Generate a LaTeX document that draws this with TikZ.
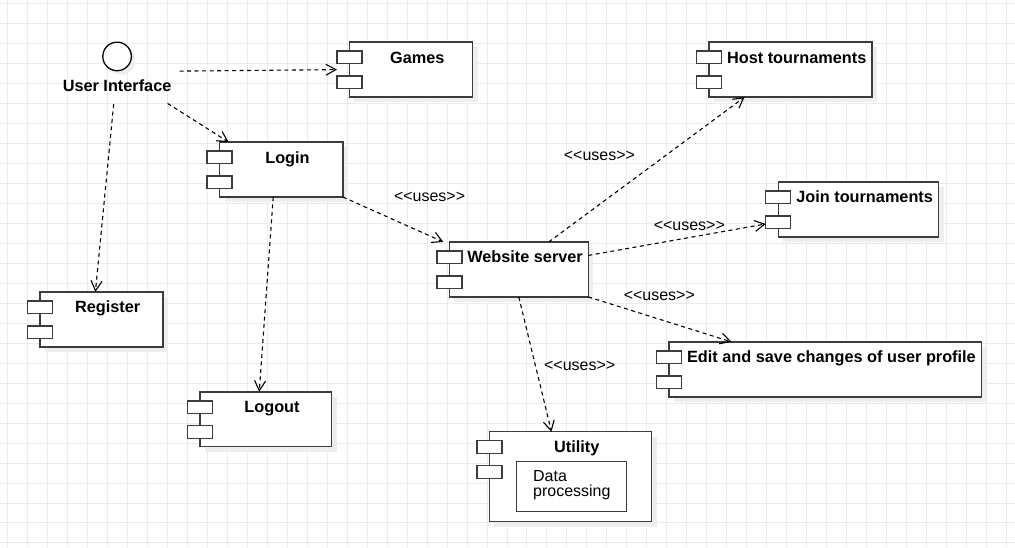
\documentclass[tikz,border=0pt]{standalone}
\usepackage{fontspec}
\setmainfont{Liberation Sans}
\usepackage{tikz}
\usetikzlibrary{arrows.meta,positioning,calc}

\definecolor{gridline}{HTML}{EBEBEB}
\definecolor{compline}{HTML}{3C3C3C}
\definecolor{shadowgray}{HTML}{EEEEEE}
\newcommand{\stereo}[1]{<\kern0pt<#1>\kern0pt>}

\begin{document}
\begin{tikzpicture}[x=1pt, y=-1pt,
    comp/.style={draw=compline, fill=white, line width=1.4pt, inner sep=0pt, outer sep=0pt, anchor=north west},
    port/.style={draw=compline, fill=white, line width=1.4pt},
    shadowbox/.style={fill=shadowgray},
    comptitle/.style={font=\fontsize{16.3}{19}\selectfont\bfseries, inner sep=0pt, anchor=base},
    uses/.style={font=\fontsize{16}{19}\selectfont, inner sep=0pt, anchor=base},
    dep/.style={-{Straight Barb[length=10pt,width=11pt]}, line width=1.1pt, dash pattern=on 4pt off 3.5pt}]

    % Background grid
    \fill[white] (0,0) rectangle (1015,547);
    \foreach \gx in {7,27,...,1007} \draw[gridline, line width=1pt] (\gx,0) -- (\gx,547);
    \foreach \gy in {3,23,...,543} \draw[gridline, line width=1pt] (0,\gy) -- (1015,\gy);
    \useasboundingbox (0,0) rectangle (1015,547);

    % Components
    \foreach \nm/\lx/\ty/\w/\h/\ttl in {
        games/349.3/41.7/123.4/55/Games,
        login/219.3/141.7/123.4/55/Login,
        host/709.3/41.7/163/55/Host tournaments,
        join/778.5/181.7/160.5/55/Join tournaments,
        ws/449.3/241.7/139/55/Website server,
        edit/669.3/341.7/312.4/55/Edit and save changes of user profile,
        utility/489.3/431.7/162.4/90/Utility,
        register/39.5/291.7/123/55/Register,
        logout/199.5/391.7/132/55/Logout}
    {
        \fill[shadowbox] (\lx+5,\ty+5) rectangle ++(\w,\h);
        \node[comp, minimum width=\w pt, minimum height=\h pt] (\nm) at (\lx,\ty) {};
        \draw[port] (\lx-12.5,\ty+9) rectangle ++(25,12.5);
        \draw[port] (\lx-12.5,\ty+34) rectangle ++(25,12.5);
        \node[comptitle] (\nm-title) at (\lx+6.25+\w/2,\ty+21) {\ttl};
    }

    % Inner part of Utility
    \node[draw=compline, line width=1.4pt, minimum width=110pt, minimum height=50pt, inner sep=0pt] (dataproc) at (571.7,486.7) {};
    \node[font=\fontsize{16}{15.7}\selectfont, align=left, inner sep=0pt, anchor=base west] (dataproc-text) at (533,496.7) {Data\\processing};

    % Interface
    \fill[shadowbox] (120.7,60) circle (14.3);
    \node[circle, draw=black, fill=white, line width=1.3pt, minimum size=28.6pt, inner sep=0pt] (ui) at (116.7,56) {};
    \node[comptitle] (uilabel) at (116.7,90.7) {User Interface};

    % Dependencies
    \draw[dep] ([shift={(8,-8)}]uilabel.north east) -- ([xshift=-12.5pt]games.west);
    \draw[dep] ([shift={(-4,12)}]uilabel.south east) -- ([xshift=9pt]login.north west);
    \draw[dep] ([shift={(-3.4,12.6)}]uilabel.south) -- ([xshift=-6pt]register.north);
    \draw[dep] ([xshift=-8pt]login.south) -- ([xshift=-6.5pt]logout.north);
    \draw[dep] (login.south east) -- ([xshift=-6pt]ws.north west);
    \draw[dep] ([xshift=30pt]ws.north) -- ([xshift=-46pt]host.south);
    \draw[dep] ([yshift=14pt]ws.east) -- ([shift={(-12.5,14.5)}]join.west);
    \draw[dep] (ws.south east) -- ([xshift=62.4pt]edit.north west);
    \draw[dep] (ws.south) -- ([xshift=-19pt]utility.north);

    % Stereotype labels
    \node[uses] (uses-login) at (429.5,200.7) {\stereo{uses}};
    \node[uses] (uses-host) at (599.5,160) {\stereo{uses}};
    \node[uses] (uses-join) at (689.5,230) {\stereo{uses}};
    \node[uses] (uses-edit) at (659.5,300) {\stereo{uses}};
    \node[uses] (uses-util) at (579.7,370) {\stereo{uses}};
\end{tikzpicture}
\end{document}
